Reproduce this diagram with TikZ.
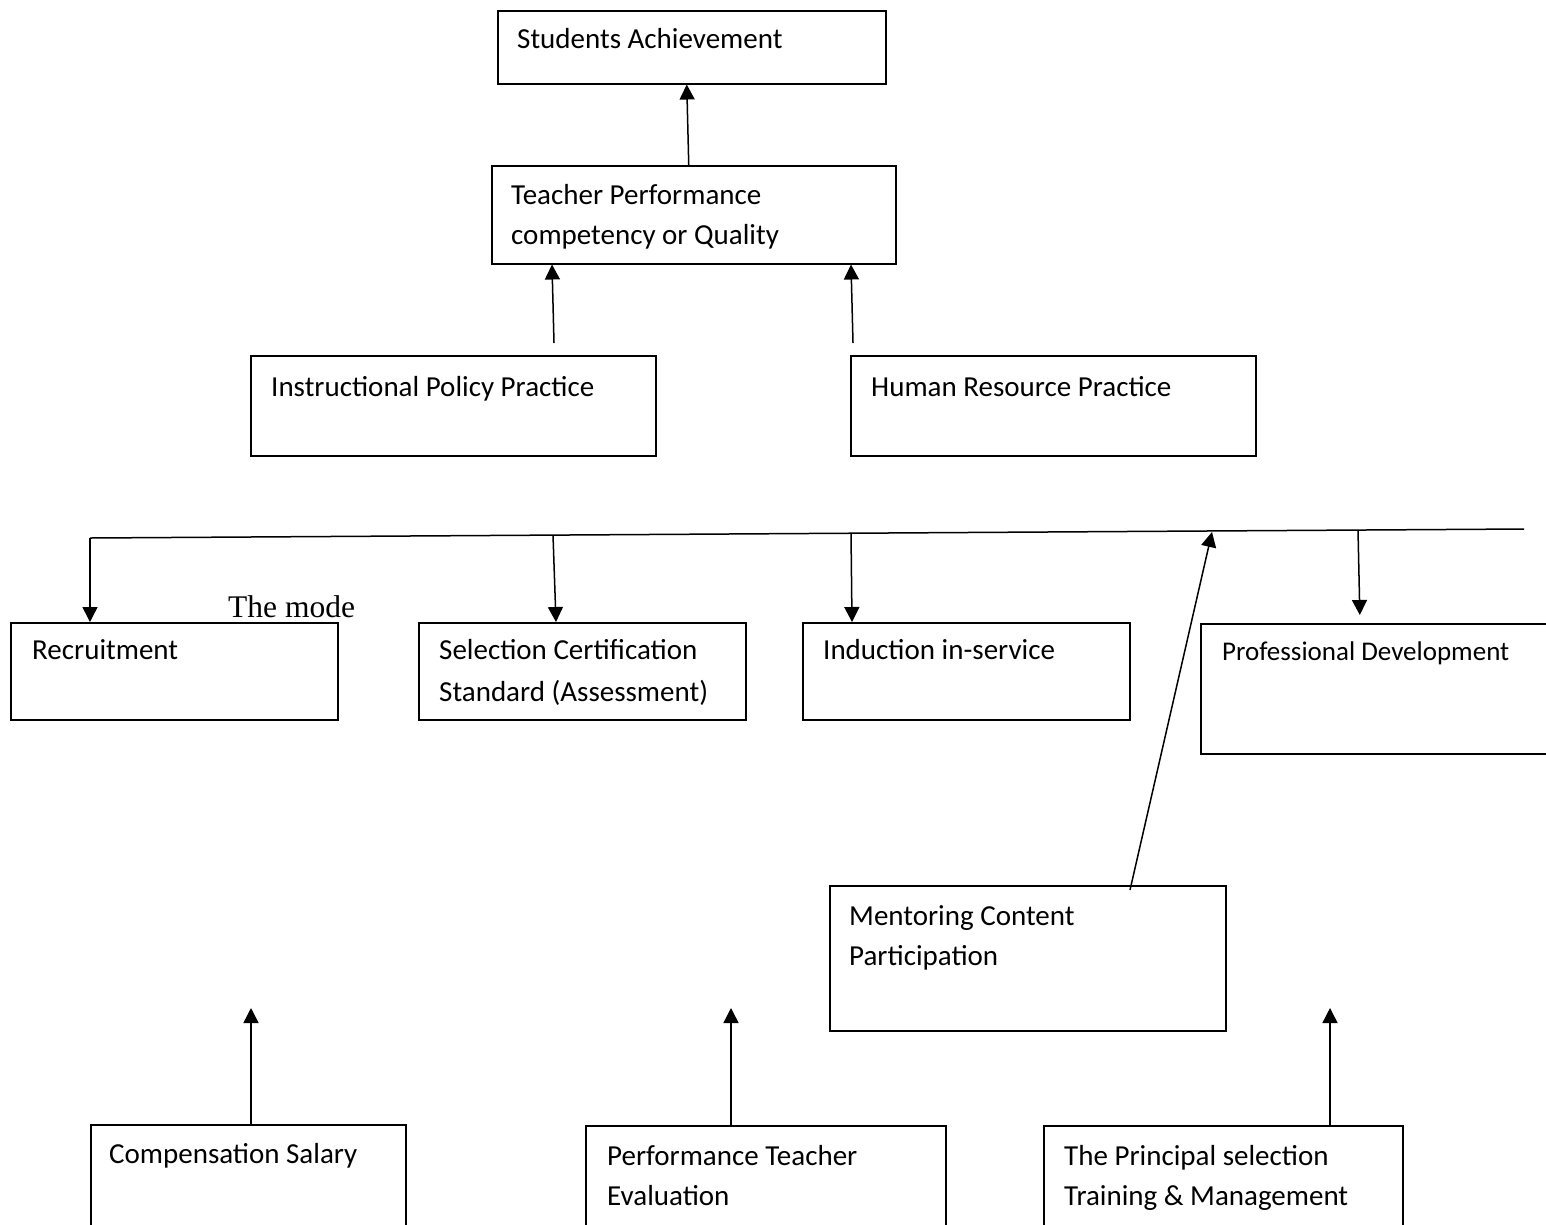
\documentclass[tikz,border=0pt]{standalone}
\usepackage{fontspec}
\setmainfont{Carlito}
\newfontfamily\modefont{Liberation Serif}
\usetikzlibrary{arrows.meta,calc}
\begin{document}
\begin{tikzpicture}[x=1pt,y=-1pt,
  box/.style={draw,line width=1.5pt,inner sep=0pt,anchor=north west},
  txt/.style={anchor=base west,inner sep=0pt,font=\fontsize{29}{34}\selectfont},
  arr/.style={line width=1.5pt,-{Triangle[length=15pt,width=15pt]}},
  ln/.style={line width=1.5pt}]
\useasboundingbox (0,0) rectangle (1546,1224);
\clip (0,0) rectangle (1546,1224);
\fill[white] (0,0) rectangle (1546,1224);
% boxes
\node[box,minimum width=388pt,minimum height=73pt] (sa) at (497,10) {};
\node[txt] (sat) at (517,48) {Students Achievement};
\node[box,minimum width=404pt,minimum height=98pt] (tp) at (491,165) {};
\node[txt] (tpt1) at (511,204) {Teacher Performance};
\node[txt] (tpt2) at (511,244) {competency or Quality};
\node[box,minimum width=405pt,minimum height=100pt] (ipp) at (250,355) {};
\node[txt] (ippt) at (271,396) {Instructional Policy Practice};
\node[box,minimum width=405pt,minimum height=100pt] (hrp) at (850,355) {};
\node[txt] (hrpt) at (871,396) {Human Resource Practice};
\node[box,minimum width=327pt,minimum height=97pt] (rec) at (10,622) {};
\node[txt] (rect) at (32,659) {Recruitment};
\node[anchor=base west,inner sep=0pt,font=\modefont\fontsize{31.5}{36}\selectfont] (mode) at (228,617) {The mode};
\node[box,minimum width=327pt,minimum height=97pt] (sel) at (418,622) {};
\node[txt] (selt1) at (439,659) {Selection Certification};
\node[txt] (selt2) at (439,701) {Standard (Assessment)};
\node[box,minimum width=327pt,minimum height=97pt] (ind) at (802,622) {};
\node[txt] (indt) at (823,659) {Induction in-service};
\node[box,minimum width=370pt,minimum height=130pt] (pd) at (1200,623) {};
\node[txt,font=\fontsize{27}{32}\selectfont] (pdt) at (1222,660) {Professional Development};
\node[box,minimum width=396pt,minimum height=145pt] (men) at (829,885) {};
\node[txt] (ment1) at (849,925) {Mentoring Content};
\node[txt] (ment2) at (849,965) {Participation};
\node[box,minimum width=315pt,minimum height=130pt] (comp) at (90,1124) {};
\node[txt] (compt) at (109,1163) {Compensation Salary};
\node[box,minimum width=360pt,minimum height=130pt] (perf) at (585,1125) {};
\node[txt] (perft1) at (607,1165) {Performance Teacher};
\node[txt] (perft2) at (607,1205) {Evaluation};
\node[box,minimum width=359pt,minimum height=130pt] (prin) at (1043,1125) {};
\node[txt] (print1) at (1064,1165) {The Principal selection};
\node[txt] (print2) at (1064,1205) {Training \& Management};
% coordinates
\coordinate (h1) at (90,538);
\coordinate (h2) at (1524,529);
\coordinate (s1) at (554,343);
\coordinate (s2) at (853,343);
\coordinate (d2) at (553,535);
\coordinate (d3) at (851,533);
\coordinate (d4) at (1358,530);
\coordinate (m1) at (1212,532);
\coordinate (b1) at (251,1008);
\coordinate (b2) at (731,1008);
\coordinate (b3) at (1330,1008);
% connectors
\draw[arr] ([xshift=-5pt]tp.north) -- ([xshift=-5pt]sa.south);
\draw[arr] (s1) -- ([xshift=-2pt]s1 |- tp.south);
\draw[arr] (s2) -- ([xshift=-2pt]s2 |- tp.south);
\draw[ln] (h1) -- (h2);
\draw[arr] (h1) -- (h1 |- rec.north);
\draw[arr] (d2) -- ([xshift=3pt]d2 |- sel.north);
\draw[arr] (d3) -- ([xshift=1pt]d3 |- ind.north);
\draw[arr,shorten >=8pt] (d4) -- ([xshift=2pt]d4 |- pd.north);
\draw[arr] ([xshift=301pt,yshift=-5pt]men.north west) -- (m1);
\draw[arr] (b1 |- comp.north) -- (b1);
\draw[arr] (b2 |- perf.north) -- (b2);
\draw[arr] (b3 |- prin.north) -- (b3);
\end{tikzpicture}
\end{document}
